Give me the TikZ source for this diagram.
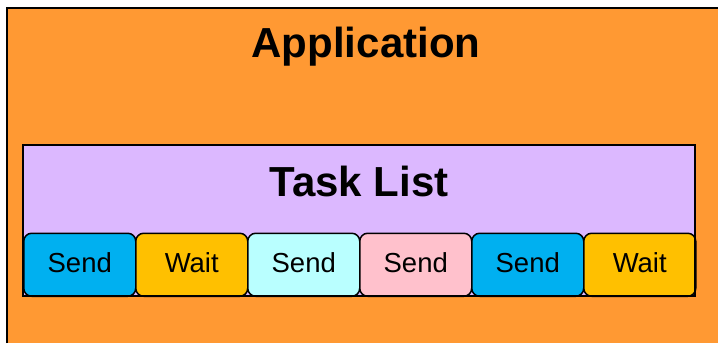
\documentclass[tikz,border=0pt]{standalone}
\usepackage{fontspec}
\setmainfont{Liberation Sans}
\definecolor{apporange}{RGB}{255,153,51}
\definecolor{listlavender}{RGB}{220,184,255}
\definecolor{taskblue}{RGB}{0,176,240}
\definecolor{taskgold}{RGB}{255,192,0}
\definecolor{taskcyan}{RGB}{185,255,255}
\definecolor{taskpink}{RGB}{255,193,204}
\begin{document}
\begin{tikzpicture}[x=1pt,y=-1pt,
  titletext/.style={font=\bfseries\fontsize{42}{48}\selectfont, inner sep=0pt, anchor=base},
  taskbox/.style={draw=black, line width=1.5pt, rounded corners=8pt,
    minimum width=112pt, minimum height=63pt, inner sep=0pt, anchor=north west,
    font=\fontsize{27.5}{32}\selectfont, text height=16pt, text depth=0pt}]
\useasboundingbox (0,0) rectangle (718,343);

% application area
\fill[apporange] (7,8) rectangle (718,343);
\draw[line width=2pt] (7,343) -- (7,8) -- (718,8);
\fill[apporange] (162,8.5) rectangle (572,70);
\node[titletext] (apptitle) at (366,57) {Application};

% task list frame
\node[fill=listlavender, inner sep=0pt, minimum width=672pt, minimum height=151pt,
      anchor=north west] (tasklist) at (23,145) {};
\node[titletext] (listtitle) at (359,196) {Task List};

% tasks
\node[taskbox, fill=taskblue] (t1) at (23,232.5) {Send};
\node[taskbox, fill=taskgold] (t2) at (135,232.5) {Wait};
\node[taskbox, fill=taskcyan] (t3) at (247,232.5) {Send};
\node[taskbox, fill=taskpink] (t4) at (359,232.5) {Send};
\node[taskbox, fill=taskblue] (t5) at (471,232.5) {Send};
\node[taskbox, fill=taskgold] (t6) at (583,232.5) {Wait};

\draw[line width=2pt] (tasklist.north west) rectangle (tasklist.south east);
\end{tikzpicture}
\end{document}
